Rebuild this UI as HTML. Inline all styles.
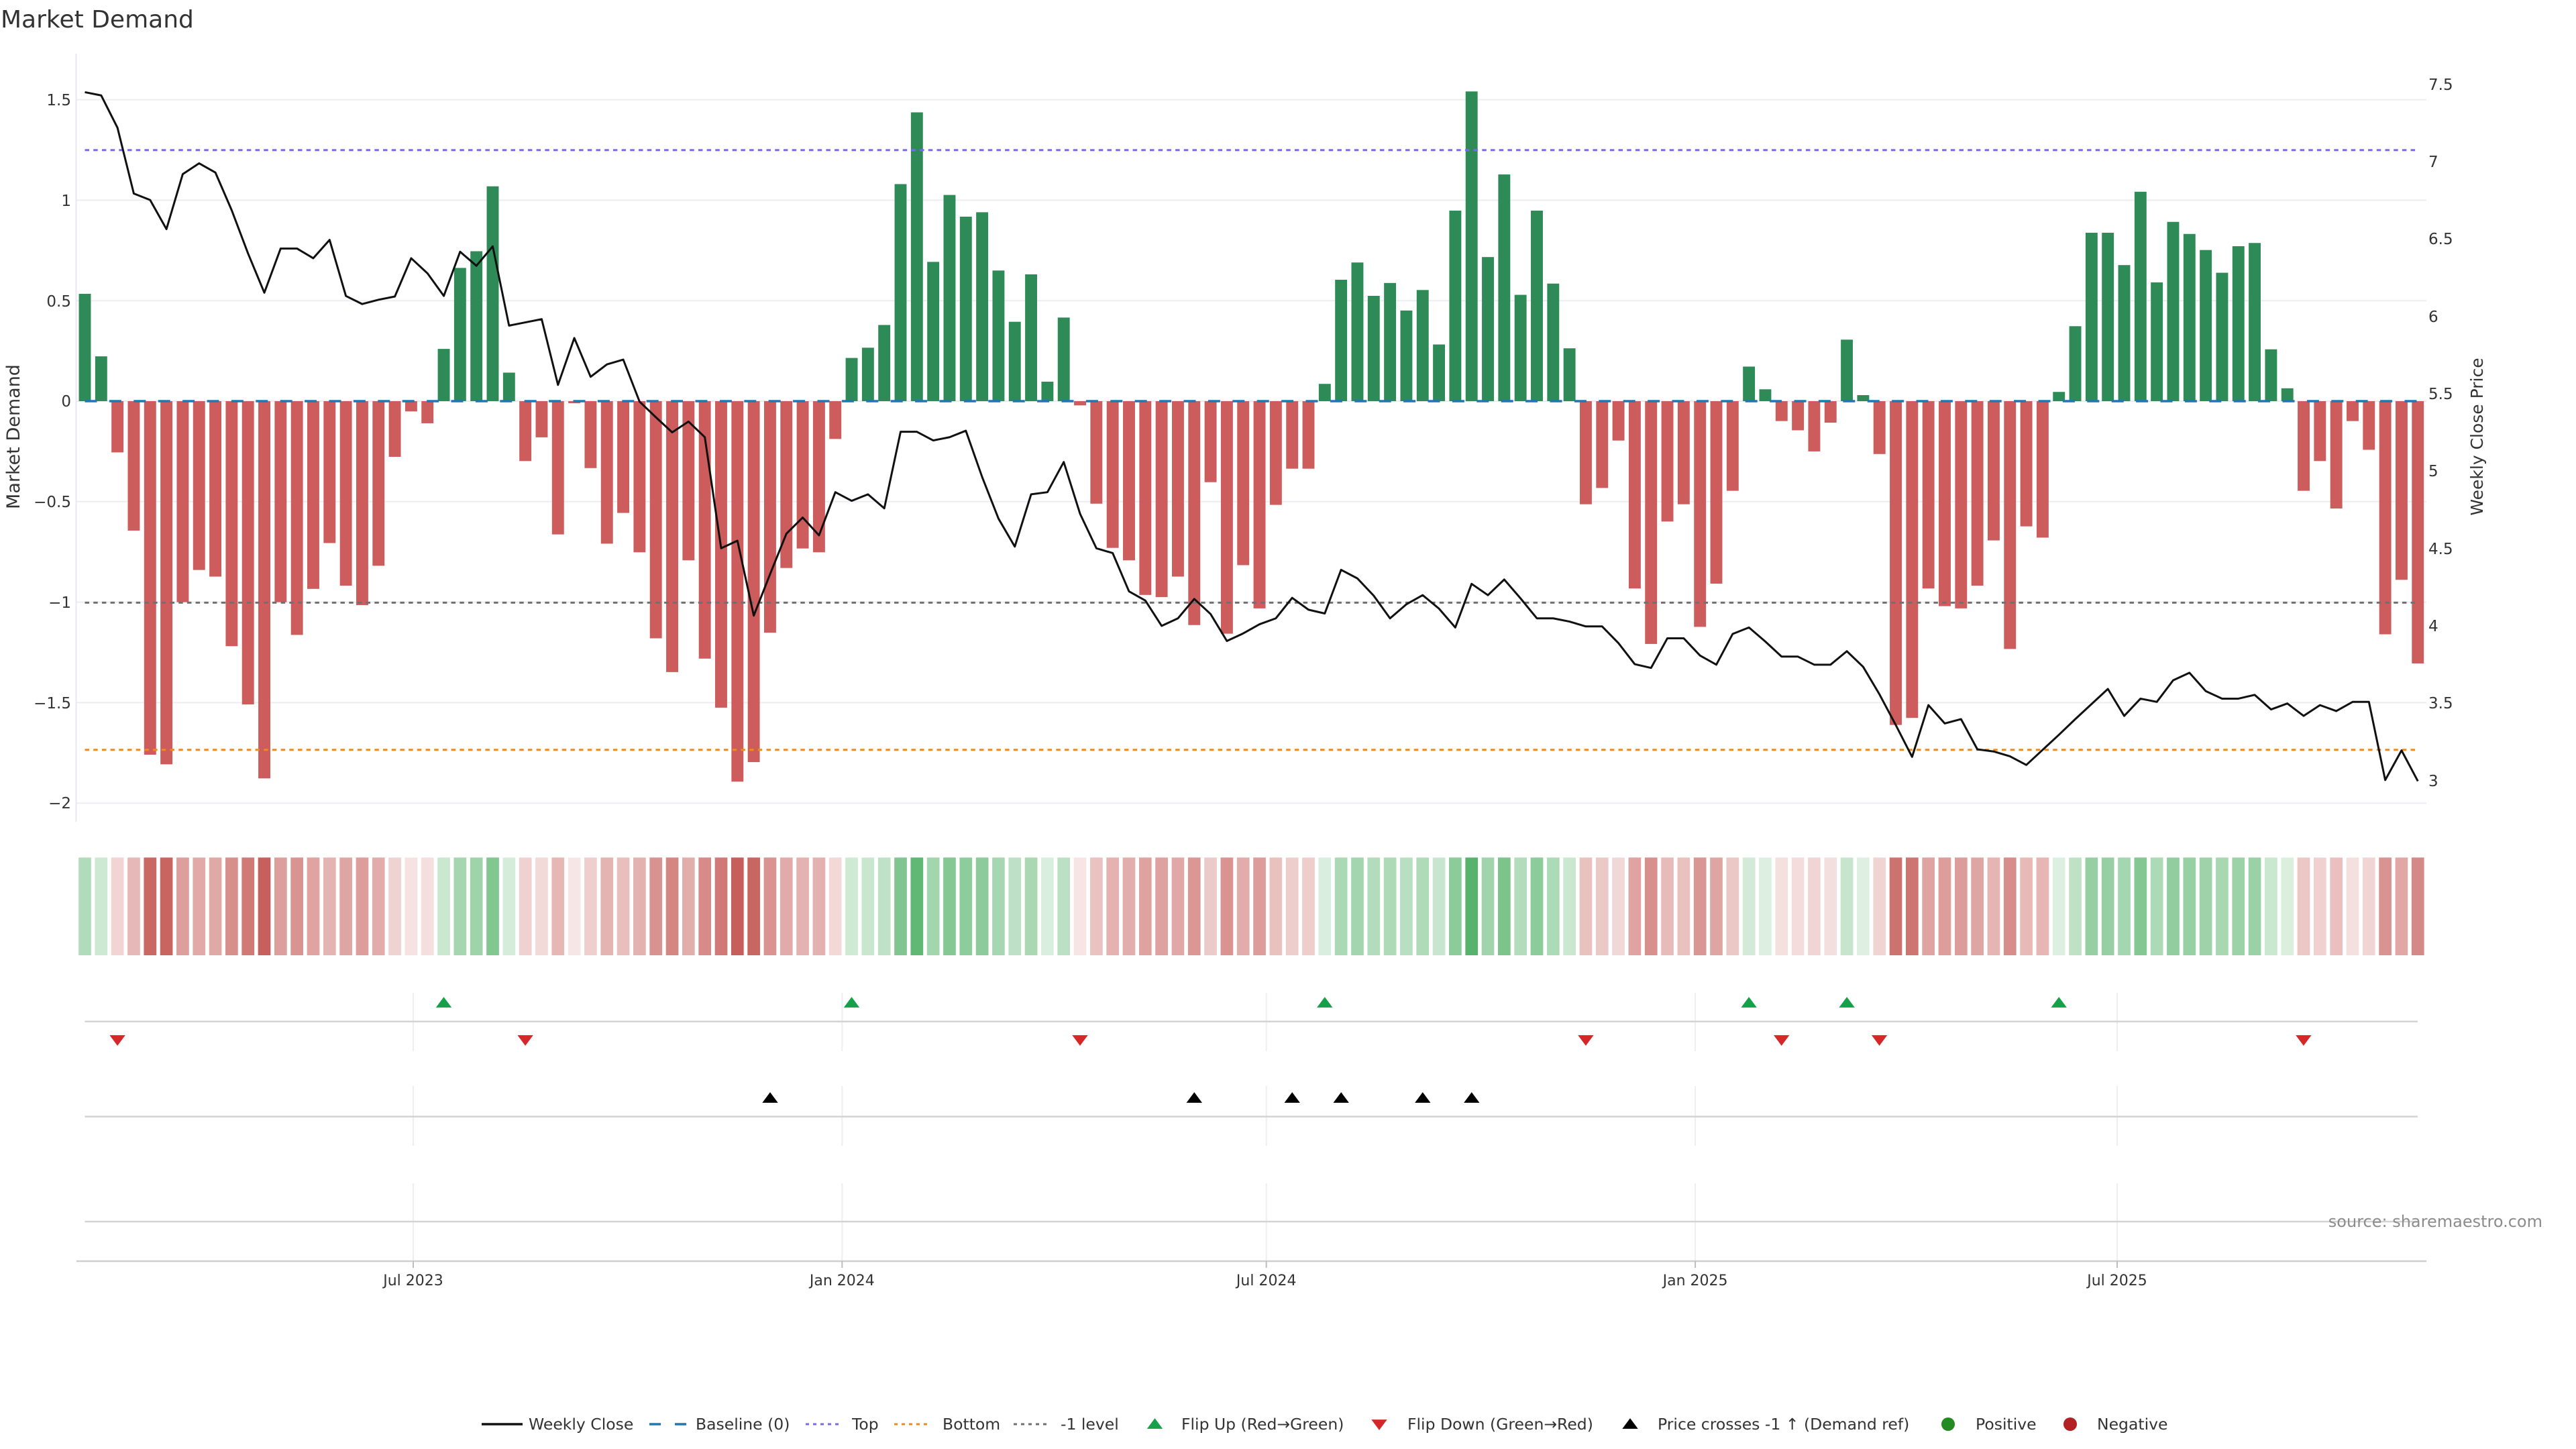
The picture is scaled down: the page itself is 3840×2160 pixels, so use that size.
<!DOCTYPE html>
<html><head><meta charset="utf-8"><style>
html,body{margin:0;padding:0;background:#fff;}
svg{display:block;}
text{font-family:"DejaVu Sans","Liberation Sans",sans-serif;fill:#333;}
.g rect{fill:#2e8b57;}
.r rect{fill:#cd5c5c;}
.hg{fill:#37a44f;}
.hr{fill:#c65e5a;}
</style></head><body>
<svg width="3840" height="2160" viewBox="0 0 3840 2160" xmlns="http://www.w3.org/2000/svg">
<defs>
<path id="tu" d="M-11.7,7.9H11.7L0,-7.9Z"/>
<path id="td" d="M-11.7,-7.9H11.7L0,7.9Z"/>
</defs>
<rect width="3840" height="2160" fill="#fff"/>
<text x="1" y="41" style="font-size:36px">Market Demand</text>

<!-- main gridlines -->
<g stroke="#ecedf1" stroke-width="2">
<line x1="114" y1="148.6" x2="3617" y2="148.6"/>
<line x1="114" y1="298.4" x2="3617" y2="298.4"/>
<line x1="114" y1="448.2" x2="3617" y2="448.2"/>
<line x1="114" y1="598" x2="3617" y2="598"/>
<line x1="114" y1="747.8" x2="3617" y2="747.8"/>
<line x1="114" y1="897.6" x2="3617" y2="897.6"/>
<line x1="114" y1="1047.4" x2="3617" y2="1047.4"/>
<line x1="114" y1="1197.2" x2="3617" y2="1197.2"/>
</g>
<line x1="113.5" y1="80" x2="113.5" y2="1225" stroke="#e6e8ee" stroke-width="2"/>

<!-- left ticks -->
<g style="font-size:23px" text-anchor="end">
<text x="106" y="157">1.5</text>
<text x="106" y="307">1</text>
<text x="106" y="457">0.5</text>
<text x="106" y="606">0</text>
<text x="106" y="756">−0.5</text>
<text x="106" y="906">−1</text>
<text x="106" y="1056">−1.5</text>
<text x="106" y="1205">−2</text>
</g>
<!-- right ticks -->
<g style="font-size:23px">
<text x="3620" y="134">7.5</text>
<text x="3620" y="249">7</text>
<text x="3620" y="364">6.5</text>
<text x="3620" y="480">6</text>
<text x="3620" y="595">5.5</text>
<text x="3620" y="710">5</text>
<text x="3620" y="826">4.5</text>
<text x="3620" y="941">4</text>
<text x="3620" y="1056">3.5</text>
<text x="3620" y="1172">3</text>
</g>
<text transform="translate(29,651) rotate(-90)" text-anchor="middle" style="font-size:27px">Market Demand</text>
<text transform="translate(3701,651) rotate(-90)" text-anchor="middle" style="font-size:25px">Weekly Close Price</text>

<!-- bars -->
<g transform="translate(117.55,598) scale(24.32,-299.6)">
<g class="g">
<rect x="0" y="0" width="0.736" height="0.534"/>
<rect x="1" y="0" width="0.736" height="0.223"/>
<rect x="22" y="0" width="0.736" height="0.26"/>
<rect x="23" y="0" width="0.736" height="0.663"/>
<rect x="24" y="0" width="0.736" height="0.746"/>
<rect x="25" y="0" width="0.736" height="1.069"/>
<rect x="26" y="0" width="0.736" height="0.142"/>
<rect x="47" y="0" width="0.736" height="0.215"/>
<rect x="48" y="0" width="0.736" height="0.266"/>
<rect x="49" y="0" width="0.736" height="0.379"/>
<rect x="50" y="0" width="0.736" height="1.08"/>
<rect x="51" y="0" width="0.736" height="1.437"/>
<rect x="52" y="0" width="0.736" height="0.693"/>
<rect x="53" y="0" width="0.736" height="1.026"/>
<rect x="54" y="0" width="0.736" height="0.918"/>
<rect x="55" y="0" width="0.736" height="0.94"/>
<rect x="56" y="0" width="0.736" height="0.65"/>
<rect x="57" y="0" width="0.736" height="0.395"/>
<rect x="58" y="0" width="0.736" height="0.631"/>
<rect x="59" y="0" width="0.736" height="0.097"/>
<rect x="60" y="0" width="0.736" height="0.416"/>
<rect x="76" y="0" width="0.736" height="0.086"/>
<rect x="77" y="0" width="0.736" height="0.604"/>
<rect x="78" y="0" width="0.736" height="0.69"/>
<rect x="79" y="0" width="0.736" height="0.524"/>
<rect x="80" y="0" width="0.736" height="0.588"/>
<rect x="81" y="0" width="0.736" height="0.451"/>
<rect x="82" y="0" width="0.736" height="0.553"/>
<rect x="83" y="0" width="0.736" height="0.282"/>
<rect x="84" y="0" width="0.736" height="0.948"/>
<rect x="85" y="0" width="0.736" height="1.541"/>
<rect x="86" y="0" width="0.736" height="0.717"/>
<rect x="87" y="0" width="0.736" height="1.128"/>
<rect x="88" y="0" width="0.736" height="0.529"/>
<rect x="89" y="0" width="0.736" height="0.948"/>
<rect x="90" y="0" width="0.736" height="0.585"/>
<rect x="91" y="0" width="0.736" height="0.263"/>
<rect x="102" y="0" width="0.736" height="0.172"/>
<rect x="103" y="0" width="0.736" height="0.059"/>
<rect x="108" y="0" width="0.736" height="0.306"/>
<rect x="109" y="0" width="0.736" height="0.03"/>
<rect x="121" y="0" width="0.736" height="0.046"/>
<rect x="122" y="0" width="0.736" height="0.373"/>
<rect x="123" y="0" width="0.736" height="0.838"/>
<rect x="124" y="0" width="0.736" height="0.838"/>
<rect x="125" y="0" width="0.736" height="0.677"/>
<rect x="126" y="0" width="0.736" height="1.042"/>
<rect x="127" y="0" width="0.736" height="0.591"/>
<rect x="128" y="0" width="0.736" height="0.892"/>
<rect x="129" y="0" width="0.736" height="0.832"/>
<rect x="130" y="0" width="0.736" height="0.752"/>
<rect x="131" y="0" width="0.736" height="0.639"/>
<rect x="132" y="0" width="0.736" height="0.771"/>
<rect x="133" y="0" width="0.736" height="0.787"/>
<rect x="134" y="0" width="0.736" height="0.258"/>
<rect x="135" y="0" width="0.736" height="0.064"/>
</g>
<g class="r">
<rect x="2" y="-0.255" width="0.736" height="0.255"/>
<rect x="3" y="-0.644" width="0.736" height="0.644"/>
<rect x="4" y="-1.759" width="0.736" height="1.759"/>
<rect x="5" y="-1.807" width="0.736" height="1.807"/>
<rect x="6" y="-1.0" width="0.736" height="1.0"/>
<rect x="7" y="-0.84" width="0.736" height="0.84"/>
<rect x="8" y="-0.873" width="0.736" height="0.873"/>
<rect x="9" y="-1.219" width="0.736" height="1.219"/>
<rect x="10" y="-1.509" width="0.736" height="1.509"/>
<rect x="11" y="-1.877" width="0.736" height="1.877"/>
<rect x="12" y="-1.0" width="0.736" height="1.0"/>
<rect x="13" y="-1.163" width="0.736" height="1.163"/>
<rect x="14" y="-0.934" width="0.736" height="0.934"/>
<rect x="15" y="-0.706" width="0.736" height="0.706"/>
<rect x="16" y="-0.918" width="0.736" height="0.918"/>
<rect x="17" y="-1.015" width="0.736" height="1.015"/>
<rect x="18" y="-0.819" width="0.736" height="0.819"/>
<rect x="19" y="-0.277" width="0.736" height="0.277"/>
<rect x="20" y="-0.051" width="0.736" height="0.051"/>
<rect x="21" y="-0.110" width="0.736" height="0.110"/>
<rect x="27" y="-0.298" width="0.736" height="0.298"/>
<rect x="28" y="-0.18" width="0.736" height="0.18"/>
<rect x="29" y="-0.663" width="0.736" height="0.663"/>
<rect x="30" y="-0.01" width="0.736" height="0.01"/>
<rect x="31" y="-0.333" width="0.736" height="0.333"/>
<rect x="32" y="-0.709" width="0.736" height="0.709"/>
<rect x="33" y="-0.556" width="0.736" height="0.556"/>
<rect x="34" y="-0.752" width="0.736" height="0.752"/>
<rect x="35" y="-1.18" width="0.736" height="1.18"/>
<rect x="36" y="-1.348" width="0.736" height="1.348"/>
<rect x="37" y="-0.792" width="0.736" height="0.792"/>
<rect x="38" y="-1.281" width="0.736" height="1.281"/>
<rect x="39" y="-1.525" width="0.736" height="1.525"/>
<rect x="40" y="-1.893" width="0.736" height="1.893"/>
<rect x="41" y="-1.796" width="0.736" height="1.796"/>
<rect x="42" y="-1.152" width="0.736" height="1.152"/>
<rect x="43" y="-0.83" width="0.736" height="0.83"/>
<rect x="44" y="-0.733" width="0.736" height="0.733"/>
<rect x="45" y="-0.752" width="0.736" height="0.752"/>
<rect x="46" y="-0.188" width="0.736" height="0.188"/>
<rect x="61" y="-0.021" width="0.736" height="0.021"/>
<rect x="62" y="-0.51" width="0.736" height="0.51"/>
<rect x="63" y="-0.73" width="0.736" height="0.73"/>
<rect x="64" y="-0.792" width="0.736" height="0.792"/>
<rect x="65" y="-0.964" width="0.736" height="0.964"/>
<rect x="66" y="-0.975" width="0.736" height="0.975"/>
<rect x="67" y="-0.873" width="0.736" height="0.873"/>
<rect x="68" y="-1.114" width="0.736" height="1.114"/>
<rect x="69" y="-0.403" width="0.736" height="0.403"/>
<rect x="70" y="-1.157" width="0.736" height="1.157"/>
<rect x="71" y="-0.816" width="0.736" height="0.816"/>
<rect x="72" y="-1.031" width="0.736" height="1.031"/>
<rect x="73" y="-0.516" width="0.736" height="0.516"/>
<rect x="74" y="-0.336" width="0.736" height="0.336"/>
<rect x="75" y="-0.336" width="0.736" height="0.336"/>
<rect x="92" y="-0.513" width="0.736" height="0.513"/>
<rect x="93" y="-0.432" width="0.736" height="0.432"/>
<rect x="94" y="-0.196" width="0.736" height="0.196"/>
<rect x="95" y="-0.932" width="0.736" height="0.932"/>
<rect x="96" y="-1.208" width="0.736" height="1.208"/>
<rect x="97" y="-0.599" width="0.736" height="0.599"/>
<rect x="98" y="-0.513" width="0.736" height="0.513"/>
<rect x="99" y="-1.123" width="0.736" height="1.123"/>
<rect x="100" y="-0.908" width="0.736" height="0.908"/>
<rect x="101" y="-0.446" width="0.736" height="0.446"/>
<rect x="104" y="-0.099" width="0.736" height="0.099"/>
<rect x="105" y="-0.145" width="0.736" height="0.145"/>
<rect x="106" y="-0.25" width="0.736" height="0.25"/>
<rect x="107" y="-0.107" width="0.736" height="0.107"/>
<rect x="110" y="-0.263" width="0.736" height="0.263"/>
<rect x="111" y="-1.611" width="0.736" height="1.611"/>
<rect x="112" y="-1.576" width="0.736" height="1.576"/>
<rect x="113" y="-0.932" width="0.736" height="0.932"/>
<rect x="114" y="-1.02" width="0.736" height="1.02"/>
<rect x="115" y="-1.031" width="0.736" height="1.031"/>
<rect x="116" y="-0.918" width="0.736" height="0.918"/>
<rect x="117" y="-0.693" width="0.736" height="0.693"/>
<rect x="118" y="-1.233" width="0.736" height="1.233"/>
<rect x="119" y="-0.623" width="0.736" height="0.623"/>
<rect x="120" y="-0.679" width="0.736" height="0.679"/>
<rect x="136" y="-0.446" width="0.736" height="0.446"/>
<rect x="137" y="-0.298" width="0.736" height="0.298"/>
<rect x="138" y="-0.534" width="0.736" height="0.534"/>
<rect x="139" y="-0.099" width="0.736" height="0.099"/>
<rect x="140" y="-0.242" width="0.736" height="0.242"/>
<rect x="141" y="-1.16" width="0.736" height="1.16"/>
<rect x="142" y="-0.889" width="0.736" height="0.889"/>
<rect x="143" y="-1.305" width="0.736" height="1.305"/>
</g>
</g>

<!-- reference lines -->
<line x1="126.5" y1="598" x2="3605" y2="598" stroke="#1f77b4" stroke-width="3.5" stroke-dasharray="18 18.4"/>
<line x1="126.5" y1="223.7" x2="3605" y2="223.7" stroke="#7b68ee" stroke-width="3" stroke-dasharray="6.5 6.2"/>
<line x1="126.5" y1="898.4" x2="3605" y2="898.4" stroke="#707070" stroke-width="3" stroke-dasharray="6.5 6.2"/>
<line x1="126.5" y1="1117.8" x2="3605" y2="1117.8" stroke="#ef8a1e" stroke-width="3" stroke-dasharray="6.5 6.2"/>

<!-- price line -->
<g transform="translate(126.5,0) scale(24.32,0.8036)">
<polyline fill="none" stroke="#111" stroke-width="3" stroke-linejoin="round" vector-effect="non-scaling-stroke" points="0,171 1,177 2,237 3,359 4,371 5,425 6,323 7,303 8,320 9,390 10,470 11,543 12,461 13,461 14,479 15,445 16,549 17,564 18,556 19,550 20,479 21,507 22,549 23,467 24,493 25,457 26,604 27,598 28,592 29,714 30,627 31,699 32,676 33,667 34,745 35,774 36,802 37,782 38,811 39,1017 40,1003 41,1142 42,1065 43,990 44,960 45,993 46,913 47,929 48,917 49,943 50,801 51,801 52,817 53,811 54,799 55,885 56,962 57,1014 58,917 59,913 60,857 61,953 62,1017 63,1026 64,1097 65,1114 66,1161 67,1147 68,1111 69,1139 70,1189 71,1175 72,1158 73,1147 74,1109 75,1131 76,1138 77,1057 78,1073 79,1105 80,1147 81,1121 82,1104 83,1129 84,1164 85,1083 86,1104 87,1075 88,1110 89,1147 90,1147 91,1153 92,1162 93,1162 94,1193 95,1232 96,1239 97,1184 98,1184 99,1216 100,1233 101,1176 102,1164 103,1190 104,1218 105,1218 106,1233 107,1233 108,1208 109,1237 110,1288 111,1345 112,1404 113,1308 114,1342 115,1334 116,1390 117,1394 118,1403 119,1419 120,1391 121,1363 122,1334 123,1306 124,1278 125,1328 126,1296 127,1302 128,1262 129,1248 130,1282 131,1296 132,1296 133,1289 134,1316 135,1305 136,1328 137,1308 138,1319 139,1302 140,1302 141,1447 142,1392 143,1449"/>
</g>

<!-- heatmap strip -->
<g transform="translate(117.15,1278.3) scale(24.32,1)">
<g class="hg">
<rect x="0" width="0.769" height="145.7" fill-opacity=".389"/>
<rect x="1" width="0.769" height="145.7" fill-opacity=".250"/>
<rect x="22" width="0.769" height="145.7" fill-opacity=".266"/>
<rect x="23" width="0.769" height="145.7" fill-opacity=".446"/>
<rect x="24" width="0.769" height="145.7" fill-opacity=".483"/>
<rect x="25" width="0.769" height="145.7" fill-opacity=".628"/>
<rect x="26" width="0.769" height="145.7" fill-opacity=".213"/>
<rect x="47" width="0.769" height="145.7" fill-opacity=".246"/>
<rect x="48" width="0.769" height="145.7" fill-opacity=".269"/>
<rect x="49" width="0.769" height="145.7" fill-opacity=".319"/>
<rect x="50" width="0.769" height="145.7" fill-opacity=".633"/>
<rect x="51" width="0.769" height="145.7" fill-opacity=".792"/>
<rect x="52" width="0.769" height="145.7" fill-opacity=".460"/>
<rect x="53" width="0.769" height="145.7" fill-opacity=".609"/>
<rect x="54" width="0.769" height="145.7" fill-opacity=".560"/>
<rect x="55" width="0.769" height="145.7" fill-opacity=".570"/>
<rect x="56" width="0.769" height="145.7" fill-opacity=".441"/>
<rect x="57" width="0.769" height="145.7" fill-opacity=".327"/>
<rect x="58" width="0.769" height="145.7" fill-opacity=".432"/>
<rect x="59" width="0.769" height="145.7" fill-opacity=".193"/>
<rect x="60" width="0.769" height="145.7" fill-opacity=".336"/>
<rect x="76" width="0.769" height="145.7" fill-opacity=".188"/>
<rect x="77" width="0.769" height="145.7" fill-opacity=".420"/>
<rect x="78" width="0.769" height="145.7" fill-opacity=".458"/>
<rect x="79" width="0.769" height="145.7" fill-opacity=".384"/>
<rect x="80" width="0.769" height="145.7" fill-opacity=".413"/>
<rect x="81" width="0.769" height="145.7" fill-opacity=".352"/>
<rect x="82" width="0.769" height="145.7" fill-opacity=".397"/>
<rect x="83" width="0.769" height="145.7" fill-opacity=".276"/>
<rect x="84" width="0.769" height="145.7" fill-opacity=".574"/>
<rect x="85" width="0.769" height="145.7" fill-opacity=".839"/>
<rect x="86" width="0.769" height="145.7" fill-opacity=".470"/>
<rect x="87" width="0.769" height="145.7" fill-opacity=".654"/>
<rect x="88" width="0.769" height="145.7" fill-opacity=".386"/>
<rect x="89" width="0.769" height="145.7" fill-opacity=".574"/>
<rect x="90" width="0.769" height="145.7" fill-opacity=".411"/>
<rect x="91" width="0.769" height="145.7" fill-opacity=".268"/>
<rect x="102" width="0.769" height="145.7" fill-opacity=".227"/>
<rect x="103" width="0.769" height="145.7" fill-opacity=".176"/>
<rect x="108" width="0.769" height="145.7" fill-opacity=".287"/>
<rect x="109" width="0.769" height="145.7" fill-opacity=".163"/>
<rect x="121" width="0.769" height="145.7" fill-opacity=".171"/>
<rect x="122" width="0.769" height="145.7" fill-opacity=".317"/>
<rect x="123" width="0.769" height="145.7" fill-opacity=".525"/>
<rect x="124" width="0.769" height="145.7" fill-opacity=".525"/>
<rect x="125" width="0.769" height="145.7" fill-opacity=".453"/>
<rect x="126" width="0.769" height="145.7" fill-opacity=".616"/>
<rect x="127" width="0.769" height="145.7" fill-opacity=".414"/>
<rect x="128" width="0.769" height="145.7" fill-opacity=".549"/>
<rect x="129" width="0.769" height="145.7" fill-opacity=".522"/>
<rect x="130" width="0.769" height="145.7" fill-opacity=".486"/>
<rect x="131" width="0.769" height="145.7" fill-opacity=".436"/>
<rect x="132" width="0.769" height="145.7" fill-opacity=".495"/>
<rect x="133" width="0.769" height="145.7" fill-opacity=".502"/>
<rect x="134" width="0.769" height="145.7" fill-opacity=".265"/>
<rect x="135" width="0.769" height="145.7" fill-opacity=".179"/>
</g>
<g class="hr">
<rect x="2" width="0.769" height="145.7" fill-opacity=".264"/>
<rect x="3" width="0.769" height="145.7" fill-opacity=".438"/>
<rect x="4" width="0.769" height="145.7" fill-opacity=".936"/>
<rect x="5" width="0.769" height="145.7" fill-opacity=".958"/>
<rect x="6" width="0.769" height="145.7" fill-opacity=".597"/>
<rect x="7" width="0.769" height="145.7" fill-opacity=".525"/>
<rect x="8" width="0.769" height="145.7" fill-opacity=".540"/>
<rect x="9" width="0.769" height="145.7" fill-opacity=".695"/>
<rect x="10" width="0.769" height="145.7" fill-opacity=".825"/>
<rect x="11" width="0.769" height="145.7" fill-opacity=".989"/>
<rect x="12" width="0.769" height="145.7" fill-opacity=".597"/>
<rect x="13" width="0.769" height="145.7" fill-opacity=".670"/>
<rect x="14" width="0.769" height="145.7" fill-opacity=".567"/>
<rect x="15" width="0.769" height="145.7" fill-opacity=".466"/>
<rect x="16" width="0.769" height="145.7" fill-opacity=".560"/>
<rect x="17" width="0.769" height="145.7" fill-opacity=".604"/>
<rect x="18" width="0.769" height="145.7" fill-opacity=".516"/>
<rect x="19" width="0.769" height="145.7" fill-opacity=".274"/>
<rect x="20" width="0.769" height="145.7" fill-opacity=".173"/>
<rect x="21" width="0.769" height="145.7" fill-opacity=".199"/>
<rect x="27" width="0.769" height="145.7" fill-opacity=".283"/>
<rect x="28" width="0.769" height="145.7" fill-opacity=".230"/>
<rect x="29" width="0.769" height="145.7" fill-opacity=".446"/>
<rect x="30" width="0.769" height="145.7" fill-opacity=".154"/>
<rect x="31" width="0.769" height="145.7" fill-opacity=".299"/>
<rect x="32" width="0.769" height="145.7" fill-opacity=".467"/>
<rect x="33" width="0.769" height="145.7" fill-opacity=".399"/>
<rect x="34" width="0.769" height="145.7" fill-opacity=".486"/>
<rect x="35" width="0.769" height="145.7" fill-opacity=".677"/>
<rect x="36" width="0.769" height="145.7" fill-opacity=".753"/>
<rect x="37" width="0.769" height="145.7" fill-opacity=".504"/>
<rect x="38" width="0.769" height="145.7" fill-opacity=".723"/>
<rect x="39" width="0.769" height="145.7" fill-opacity=".832"/>
<rect x="40" width="0.769" height="145.7" fill-opacity=".996"/>
<rect x="41" width="0.769" height="145.7" fill-opacity=".953"/>
<rect x="42" width="0.769" height="145.7" fill-opacity=".665"/>
<rect x="43" width="0.769" height="145.7" fill-opacity=".521"/>
<rect x="44" width="0.769" height="145.7" fill-opacity=".478"/>
<rect x="45" width="0.769" height="145.7" fill-opacity=".486"/>
<rect x="46" width="0.769" height="145.7" fill-opacity=".234"/>
<rect x="61" width="0.769" height="145.7" fill-opacity=".159"/>
<rect x="62" width="0.769" height="145.7" fill-opacity=".378"/>
<rect x="63" width="0.769" height="145.7" fill-opacity=".476"/>
<rect x="64" width="0.769" height="145.7" fill-opacity=".504"/>
<rect x="65" width="0.769" height="145.7" fill-opacity=".581"/>
<rect x="66" width="0.769" height="145.7" fill-opacity=".586"/>
<rect x="67" width="0.769" height="145.7" fill-opacity=".540"/>
<rect x="68" width="0.769" height="145.7" fill-opacity=".648"/>
<rect x="69" width="0.769" height="145.7" fill-opacity=".330"/>
<rect x="70" width="0.769" height="145.7" fill-opacity=".667"/>
<rect x="71" width="0.769" height="145.7" fill-opacity=".515"/>
<rect x="72" width="0.769" height="145.7" fill-opacity=".611"/>
<rect x="73" width="0.769" height="145.7" fill-opacity=".381"/>
<rect x="74" width="0.769" height="145.7" fill-opacity=".300"/>
<rect x="75" width="0.769" height="145.7" fill-opacity=".300"/>
<rect x="92" width="0.769" height="145.7" fill-opacity=".379"/>
<rect x="93" width="0.769" height="145.7" fill-opacity=".343"/>
<rect x="94" width="0.769" height="145.7" fill-opacity=".238"/>
<rect x="95" width="0.769" height="145.7" fill-opacity=".567"/>
<rect x="96" width="0.769" height="145.7" fill-opacity=".690"/>
<rect x="97" width="0.769" height="145.7" fill-opacity=".418"/>
<rect x="98" width="0.769" height="145.7" fill-opacity=".379"/>
<rect x="99" width="0.769" height="145.7" fill-opacity=".652"/>
<rect x="100" width="0.769" height="145.7" fill-opacity=".556"/>
<rect x="101" width="0.769" height="145.7" fill-opacity=".349"/>
<rect x="104" width="0.769" height="145.7" fill-opacity=".194"/>
<rect x="105" width="0.769" height="145.7" fill-opacity=".215"/>
<rect x="106" width="0.769" height="145.7" fill-opacity=".262"/>
<rect x="107" width="0.769" height="145.7" fill-opacity=".198"/>
<rect x="110" width="0.769" height="145.7" fill-opacity=".268"/>
<rect x="111" width="0.769" height="145.7" fill-opacity=".870"/>
<rect x="112" width="0.769" height="145.7" fill-opacity=".854"/>
<rect x="113" width="0.769" height="145.7" fill-opacity=".567"/>
<rect x="114" width="0.769" height="145.7" fill-opacity=".606"/>
<rect x="115" width="0.769" height="145.7" fill-opacity=".611"/>
<rect x="116" width="0.769" height="145.7" fill-opacity=".560"/>
<rect x="117" width="0.769" height="145.7" fill-opacity=".460"/>
<rect x="118" width="0.769" height="145.7" fill-opacity=".701"/>
<rect x="119" width="0.769" height="145.7" fill-opacity=".428"/>
<rect x="120" width="0.769" height="145.7" fill-opacity=".454"/>
<rect x="136" width="0.769" height="145.7" fill-opacity=".349"/>
<rect x="137" width="0.769" height="145.7" fill-opacity=".283"/>
<rect x="138" width="0.769" height="145.7" fill-opacity=".389"/>
<rect x="139" width="0.769" height="145.7" fill-opacity=".194"/>
<rect x="140" width="0.769" height="145.7" fill-opacity=".258"/>
<rect x="141" width="0.769" height="145.7" fill-opacity=".669"/>
<rect x="142" width="0.769" height="145.7" fill-opacity=".547"/>
<rect x="143" width="0.769" height="145.7" fill-opacity=".733"/>
</g>
</g>

<!-- lower rows: vertical grid segments -->
<g stroke="#eceef1" stroke-width="2">
<line x1="616" y1="1480" x2="616" y2="1567"/><line x1="1255.3" y1="1480" x2="1255.3" y2="1567"/><line x1="1887.7" y1="1480" x2="1887.7" y2="1567"/><line x1="2527.1" y1="1480" x2="2527.1" y2="1567"/><line x1="3156" y1="1480" x2="3156" y2="1567"/>
<line x1="616" y1="1619" x2="616" y2="1708"/><line x1="1255.3" y1="1619" x2="1255.3" y2="1708"/><line x1="1887.7" y1="1619" x2="1887.7" y2="1708"/><line x1="2527.1" y1="1619" x2="2527.1" y2="1708"/><line x1="3156" y1="1619" x2="3156" y2="1708"/>
<line x1="616" y1="1764" x2="616" y2="1880"/><line x1="1255.3" y1="1764" x2="1255.3" y2="1880"/><line x1="1887.7" y1="1764" x2="1887.7" y2="1880"/><line x1="2527.1" y1="1764" x2="2527.1" y2="1880"/><line x1="3156" y1="1764" x2="3156" y2="1880"/>
</g>
<g stroke="#d3d3d3" stroke-width="2.5">
<line x1="126.5" y1="1522.7" x2="3604" y2="1522.7"/>
<line x1="126.5" y1="1664.5" x2="3604" y2="1664.5"/>
<line x1="126.5" y1="1821" x2="3604" y2="1821"/>
</g>
<line x1="114" y1="1880" x2="3617" y2="1880" stroke="#cfcfcf" stroke-width="2.5"/>
<g stroke="#bdbdbd" stroke-width="2">
<line x1="616" y1="1880" x2="616" y2="1890"/><line x1="1255.3" y1="1880" x2="1255.3" y2="1890"/><line x1="1887.7" y1="1880" x2="1887.7" y2="1890"/><line x1="2527.1" y1="1880" x2="2527.1" y2="1890"/><line x1="3156" y1="1880" x2="3156" y2="1890"/>
</g>

<!-- markers -->
<g fill="#16a049">
<use href="#tu" x="661.5" y="1494"/><use href="#tu" x="1269.5" y="1494"/><use href="#tu" x="1974.8" y="1494"/><use href="#tu" x="2607.1" y="1494"/><use href="#tu" x="2753.1" y="1494"/><use href="#tu" x="3069.2" y="1494"/>
</g>
<g fill="#d62728">
<use href="#td" x="175.1" y="1551"/><use href="#td" x="783.1" y="1551"/><use href="#td" x="1610" y="1551"/><use href="#td" x="2363.9" y="1551"/><use href="#td" x="2655.7" y="1551"/><use href="#td" x="2801.6" y="1551"/><use href="#td" x="3433.9" y="1551"/>
</g>
<g fill="#000">
<use href="#tu" x="1148" y="1636"/><use href="#tu" x="1780.3" y="1636"/><use href="#tu" x="1926.2" y="1636"/><use href="#tu" x="1999.2" y="1636"/><use href="#tu" x="2120.8" y="1636"/><use href="#tu" x="2193.8" y="1636"/>
</g>

<!-- x labels -->
<g style="font-size:22px" text-anchor="middle">
<text x="616" y="1916">Jul 2023</text>
<text x="1255.3" y="1916">Jan 2024</text>
<text x="1887.7" y="1916">Jul 2024</text>
<text x="2527.1" y="1916">Jan 2025</text>
<text x="3156" y="1916">Jul 2025</text>
</g>
<text x="3790" y="1829" text-anchor="end" style="font-size:24px;fill:#8c8c8c">source: sharemaestro.com</text>

<!-- legend -->
<line x1="718" y1="2123" x2="779" y2="2123" stroke="#111" stroke-width="3.5"/>
<line x1="968" y1="2123" x2="1024" y2="2123" stroke="#1f77b4" stroke-width="3.5" stroke-dasharray="17 21"/>
<line x1="1201" y1="2123" x2="1256" y2="2123" stroke="#7b68ee" stroke-width="3" stroke-dasharray="5 6"/>
<line x1="1333" y1="2123" x2="1388" y2="2123" stroke="#ef8a1e" stroke-width="3" stroke-dasharray="5 6"/>
<line x1="1511" y1="2123" x2="1566" y2="2123" stroke="#707070" stroke-width="3" stroke-dasharray="5 6"/>
<use href="#tu" x="1721.5" y="2122" fill="#16a049"/>
<use href="#td" x="2056" y="2124" fill="#d62728"/>
<use href="#tu" x="2430" y="2122" fill="#000"/>
<circle cx="2904" cy="2123" r="10" fill="#228b22"/>
<circle cx="3086" cy="2123" r="10" fill="#b22222"/>
<g style="font-size:23.5px">
<text x="788" y="2131">Weekly Close</text>
<text x="1037" y="2131">Baseline (0)</text>
<text x="1270" y="2131">Top</text>
<text x="1405" y="2131">Bottom</text>
<text x="1581" y="2131">-1 level</text>
<text x="1761" y="2131">Flip Up (Red→Green)</text>
<text x="2098" y="2131">Flip Down (Green→Red)</text>
<text x="2471" y="2131">Price crosses -1 ↑ (Demand ref)</text>
<text x="2945" y="2131">Positive</text>
<text x="3126" y="2131">Negative</text>
</g>
</svg>
</body></html>
